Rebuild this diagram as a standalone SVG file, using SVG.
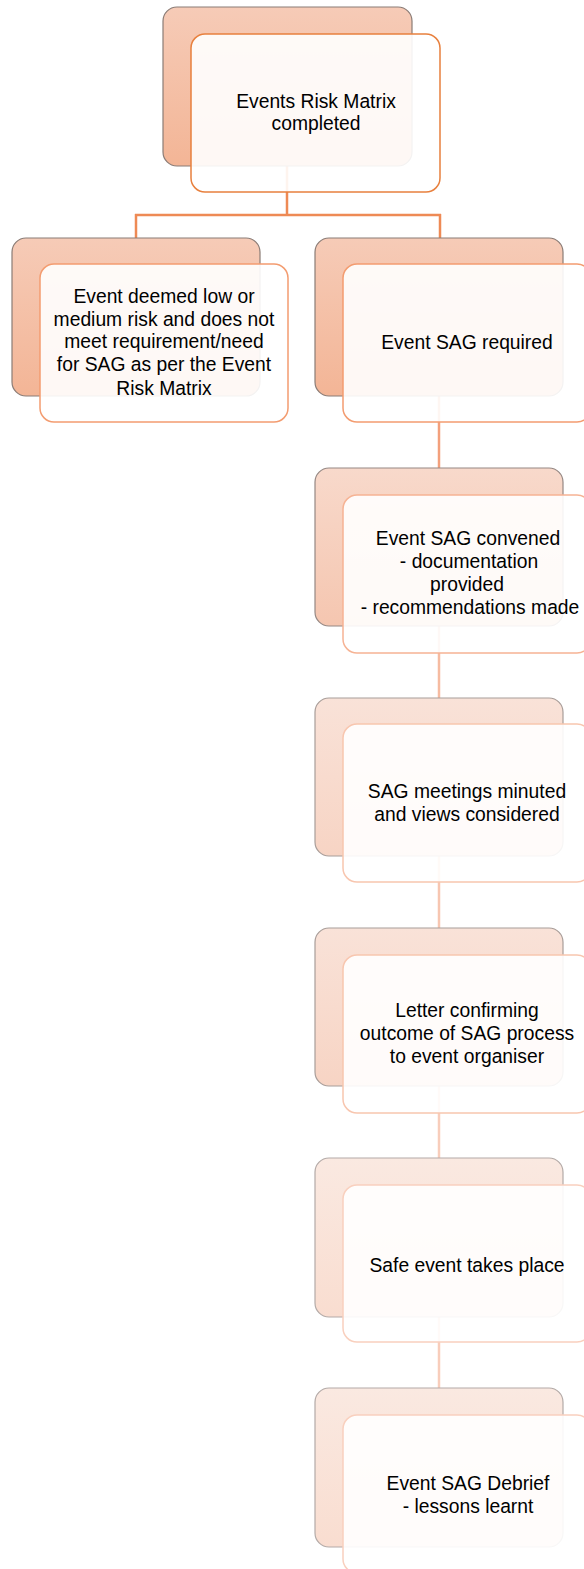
<svg xmlns="http://www.w3.org/2000/svg" width="584" height="1569" viewBox="0 0 584 1569">
<defs>
<linearGradient id="g1" x1="0" y1="0" x2="0" y2="1"><stop offset="0" stop-color="#F6CBB7"/><stop offset="1" stop-color="#F3B596"/></linearGradient>
<linearGradient id="g2" x1="0" y1="0" x2="0" y2="1"><stop offset="0" stop-color="#F8D9CB"/><stop offset="1" stop-color="#F5C6B0"/></linearGradient>
<linearGradient id="g3" x1="0" y1="0" x2="0" y2="1"><stop offset="0" stop-color="#F9E2D8"/><stop offset="1" stop-color="#F7D4C4"/></linearGradient>
<linearGradient id="g4" x1="0" y1="0" x2="0" y2="1"><stop offset="0" stop-color="#FAE9E1"/><stop offset="1" stop-color="#F9DDD0"/></linearGradient>
</defs>
<style>
.back{stroke-width:1.2}
.b1{fill:url(#g1);stroke:#8A7C76}
.b2{fill:url(#g2);stroke:#958884}
.b3{fill:url(#g3);stroke:#A89D99}
.b4{fill:url(#g4);stroke:#B3AAA7}
.front{fill:#FFFFFF;fill-opacity:0.9;stroke-width:1.5}
.f0{stroke:#E8803E}
.f1{stroke:#F39C70}
.f2{stroke:#F6B394}
.f3{stroke:#F8C6AF}
.f4{stroke:#F9D0BE}
text{font-family:"Liberation Sans",Arial,sans-serif;font-size:19.3px;fill:#000;text-anchor:middle}
.conn line{fill:none;stroke-width:2.5}
</style>
<g id="connectors" class="conn">
<line x1="287" y1="166" x2="287" y2="216" stroke="#EE8A55"/>
<line x1="135" y1="215" x2="441" y2="215" stroke="#EE8A55"/>
<line x1="136" y1="214" x2="136" y2="239" stroke="#EE8A55"/>
<line x1="440" y1="214" x2="440" y2="239" stroke="#EE8A55"/>
<line x1="439" y1="396" x2="439" y2="468" stroke="#F3A07C"/>
<line x1="439" y1="626" x2="439" y2="698" stroke="#F6BBA1"/>
<line x1="439" y1="856" x2="439" y2="928" stroke="#F7C6B1"/>
<line x1="439" y1="1086" x2="439" y2="1158" stroke="#F8CDBB"/>
<line x1="439" y1="1317" x2="439" y2="1388" stroke="#F8CDBB"/>
</g>
<g id="node-risk-matrix">
<rect class="back b1" x="163" y="7" width="249" height="159" rx="14"/>
<rect class="front f0" x="191" y="34" width="249" height="158" rx="14"/>
<text x="316" y="108">Events Risk Matrix</text>
<text x="316" y="130">completed</text>
</g>
<g id="node-low-risk">
<rect class="back b1" x="12" y="238" width="248" height="158" rx="14"/>
<rect class="front f1" x="40" y="264" width="248" height="158" rx="14"/>
<text x="164" y="303">Event deemed low or</text>
<text x="164" y="326">medium risk and does not</text>
<text x="164" y="348">meet requirement/need</text>
<text x="164" y="371">for SAG as per the Event</text>
<text x="164" y="395">Risk Matrix</text>
</g>
<g id="node-sag-required">
<rect class="back b1" x="315" y="238" width="248" height="158" rx="14"/>
<rect class="front f1" x="343" y="264" width="248" height="158" rx="14"/>
<text x="467" y="349">Event SAG required</text>
</g>
<g id="node-sag-convened">
<rect class="back b2" x="315" y="468" width="248" height="158" rx="14"/>
<rect class="front f2" x="343" y="495" width="248" height="158" rx="14"/>
<text x="468" y="545">Event SAG convened</text>
<text x="469" y="568">- documentation</text>
<text x="467" y="591">provided</text>
<text x="470" y="614">- recommendations made</text>
</g>
<g id="node-sag-meetings">
<rect class="back b3" x="315" y="698" width="248" height="158" rx="14"/>
<rect class="front f3" x="343" y="724" width="248" height="158" rx="14"/>
<text x="467" y="798">SAG meetings minuted</text>
<text x="467" y="821">and views considered</text>
</g>
<g id="node-letter">
<rect class="back b3" x="315" y="928" width="248" height="158" rx="14"/>
<rect class="front f3" x="343" y="955" width="248" height="158" rx="14"/>
<text x="467" y="1017">Letter confirming</text>
<text x="467" y="1040">outcome of SAG process</text>
<text x="467" y="1063">to event organiser</text>
</g>
<g id="node-safe-event">
<rect class="back b4" x="315" y="1158" width="248" height="159" rx="14"/>
<rect class="front f4" x="343" y="1185" width="248" height="157" rx="14"/>
<text x="467" y="1272">Safe event takes place</text>
</g>
<g id="node-debrief">
<rect class="back b4" x="315" y="1388" width="248" height="159" rx="14"/>
<rect class="front f4" x="343" y="1415" width="248" height="158" rx="14"/>
<text x="468" y="1490">Event SAG Debrief</text>
<text x="468" y="1513">- lessons learnt</text>
</g>
</svg>
